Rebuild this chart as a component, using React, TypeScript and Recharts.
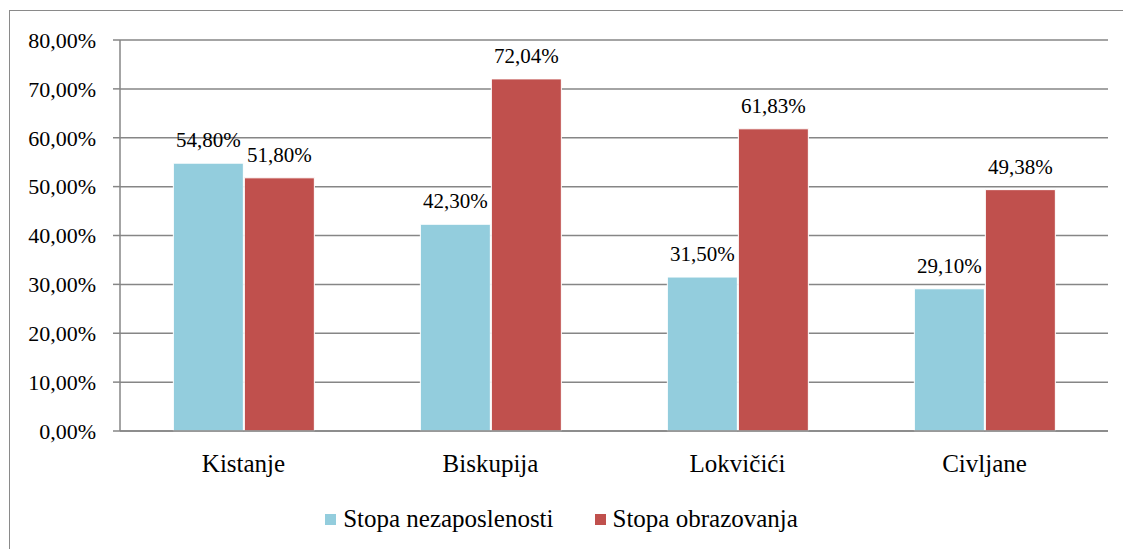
import { BarChart, Bar, XAxis, YAxis, CartesianGrid, LabelList } from 'recharts'

const places = ['Kistanje', 'Biskupija', 'Lokvičići', 'Civljane']
const unemployment = [0.548, 0.423, 0.315, 0.291]
const education = [0.518, 0.7204, 0.6183, 0.4938]
const yTicks = [0, 0.1, 0.2, 0.3, 0.4, 0.5, 0.6, 0.7, 0.8]

const seriesNames = ['Stopa nezaposlenosti', 'Stopa obrazovanja']
const seriesColors = ['#93CDDD', '#C0504D']

const FONT = 'Liberation Serif'
const txt = { fontFamily: FONT, fill: '#000' }

const data = places.map((place, i) => ({
  place,
  unemployment: unemployment[i],
  education: education[i],
}))

const pct = (v: number) => (v * 100).toFixed(2).replace('.', ',') + '%'

// custom text renderers so the serif font sticks
const XTick = (p: any) => (
  <text x={p.x} y={p.y} dy="0.71em" textAnchor="middle" style={{ ...txt, fontSize: 25 }}>
    {p.payload.value}
  </text>
)

const YTick = (p: any) => (
  <text x={p.x} y={p.y} dy="0.355em" textAnchor="end" style={{ ...txt, fontSize: 22 }}>
    {pct(p.payload.value)}
  </text>
)

const ValueLabel = (p: any) => (
  <text x={p.x + p.width / 2} y={p.y - 16} textAnchor="middle" style={{ ...txt, fontSize: 21 }}>
    {pct(p.value)}
  </text>
)

function LegendRow() {
  return (
    <div
      style={{
        position: 'absolute',
        left: 0,
        top: 505,
        width: 1123,
        display: 'flex',
        justifyContent: 'center',
        gap: 41,
      }}
    >
      {seriesNames.map((name, i) => (
        <div key={name} style={{ display: 'flex', alignItems: 'center' }}>
          <span
            style={{
              display: 'inline-block',
              width: 11,
              height: 11,
              background: seriesColors[i],
              marginRight: 7,
            }}
          />
          <span style={{ fontFamily: FONT, fontSize: 25, color: '#000' }}>{name}</span>
        </div>
      ))}
    </div>
  )
}

export default function App() {
  return (
    <div style={{ position: 'absolute', left: 0, top: 0, width: 1123, height: 549, background: '#fff' }}>
      <div
        style={{
          position: 'absolute',
          left: 9,
          top: 10,
          width: 1120,
          height: 545,
          border: '1px solid #8a8a8a',
        }}
      />
      <BarChart
        width={1123}
        height={549}
        data={data}
        margin={{ top: 40, right: 15, bottom: 88, left: 0 }}
        barCategoryGap="21.6%"
        barGap={1}
        style={{ position: 'absolute', left: 0, top: 0 }}
      >
        <CartesianGrid vertical={false} stroke="#868686" strokeWidth={1.5} />
        <XAxis
          dataKey="place"
          tickLine={false}
          axisLine={{ stroke: '#868686', strokeWidth: 1.5 }}
          tickSize={0}
          tickMargin={23}
          tick={XTick}
        />
        <YAxis
          width={120}
          domain={[0, 0.8]}
          ticks={yTicks}
          axisLine={{ stroke: '#868686', strokeWidth: 1.5 }}
          tickLine={{ stroke: '#868686', strokeWidth: 1.5 }}
          tickSize={7}
          tickMargin={17}
          tick={YTick}
        />
        <Bar
          dataKey="unemployment"
          name={seriesNames[0]}
          fill={seriesColors[0]}
          stroke="#fff"
          strokeWidth={1}
          isAnimationActive={false}
        >
          <LabelList dataKey="unemployment" content={ValueLabel} />
        </Bar>
        <Bar
          dataKey="education"
          name={seriesNames[1]}
          fill={seriesColors[1]}
          stroke="#fff"
          strokeWidth={1}
          isAnimationActive={false}
        >
          <LabelList dataKey="education" content={ValueLabel} />
        </Bar>
      </BarChart>
      <LegendRow />
    </div>
  )
}
